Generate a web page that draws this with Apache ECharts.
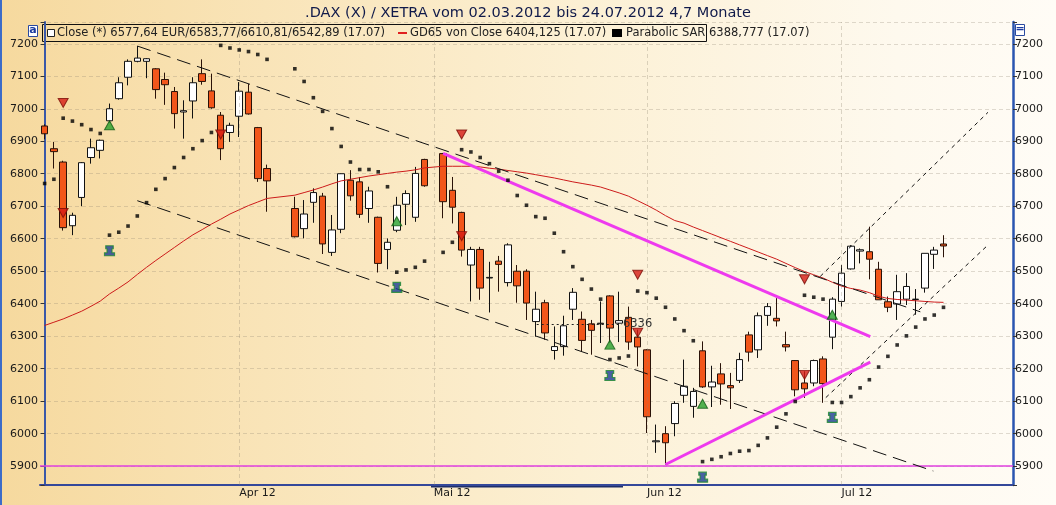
<!DOCTYPE html>
<html>
<head>
<meta charset="utf-8">
<script src="https://cdn.jsdelivr.net/npm/echarts@6/dist/echarts.min.js"></script>
<style>
html,body{margin:0;padding:0;}
#c{width:1056px;height:505px;background:linear-gradient(to right,#f6d99e 0%,#f9e4b8 25%,#fcf0d4 55%,#fef9ee 85%,#fffcf6 100%);}
</style>
</head>
<body>
<div id="c"></div>
<script>
// ---- categories: all weekdays 02.03.2012 - 26.07.2012 ----
const dates = [
 "02.03.","05.03.","06.03.","07.03.","08.03.","09.03.","12.03.","13.03.","14.03.","15.03.","16.03.","19.03.","20.03.","21.03.","22.03.","23.03.","26.03.","27.03.","28.03.","29.03.","30.03.",
 "02.04.","03.04.","04.04.","05.04.","06.04.","09.04.","10.04.","11.04.","12.04.","13.04.","16.04.","17.04.","18.04.","19.04.","20.04.","23.04.","24.04.","25.04.","26.04.","27.04.","30.04.",
 "01.05.","02.05.","03.05.","04.05.","07.05.","08.05.","09.05.","10.05.","11.05.","14.05.","15.05.","16.05.","17.05.","18.05.","21.05.","22.05.","23.05.","24.05.","25.05.","28.05.","29.05.","30.05.","31.05.",
 "01.06.","04.06.","05.06.","06.06.","07.06.","08.06.","11.06.","12.06.","13.06.","14.06.","15.06.","18.06.","19.06.","20.06.","21.06.","22.06.","25.06.","26.06.","27.06.","28.06.","29.06.",
 "02.07.","03.07.","04.07.","05.07.","06.07.","09.07.","10.07.","11.07.","12.07.","13.07.","16.07.","17.07.","18.07.","19.07.","20.07.","23.07.","24.07.","25.07.","26.07."
];
const monthLabels = {"02.04.":"Apr 12","01.05.":"Mai 12","01.06.":"Jun 12","02.07.":"Jul 12"};
const monthIdx = [21, 42, 65, 86];
const N7 = [null,null,null,null,null,null,null];

// ---- OHLC ----
const opens = [
 6947,6877,6836,6640,6727,6850,6872,6963,7031,7097,7146,7146,7123,7090,7053,6990,7024,7108,7055,6980,6927,
 6977,7051,6942,6816,null,null,6693,6631,6712,6731,6558,6629,6780,6775,6693,6666,6567,6626,6706,6666,6844,
 null,6862,6749,6681,6519,6567,6479,6531,6465,6500,6500,6345,6403,6256,6268,6383,6352,6338,6338,6424,6340,6358,6297,
 6258,5975,6000,6031,6118,6084,6255,6144,6184,6148,6164,6304,6258,6364,6355,6274,6225,6156,6156,6230,6297,
 6407,6507,6562,6560,6506,6406,6399,6414,6413,6448,6552,6583.77
].concat(N7);
const closes = [
 6923,6868,6634,6672,6834,6880,6903,7000,7080,7146,7156,7154,7059,7074,6985,6994,7080,7084,7003,6877,6949,
 7054,6984,6785,6778,null,null,6606,6676,6742,6584,6627,6800,6732,6675,6747,6524,6589,6703,6739,6801,6763,
 null,6714,6697,6565,6567,6448,6481,6521,6581,6455,6402,6383,6310,6268,6332,6435,6287,6318,6340,6325,6348,6282,6267,
 6052,5978,5972,6093,6146,6130,6144,6159,6153,6141,6228,6251,6363,6391,6347,6267,6135,6138,6225,6154,6414,
 6494,6577,6566,6537,6412,6389,6437,6453,6414,6555,6565,6577.64
].concat(N7);
const lows = [
 6906,6816,6625,6611,6700,6831,6847,6957,7028,7072,7143,7094,7031,7012,6939,6908,6970,7074,7000,6842,6898,
 6913,6982,6775,6683,null,null,6604,6601,6649,6553,6547,6617,6717,6664,6649,6496,6506,6620,6642,6652,6760,
 null,6663,6647,6545,6407,6412,6373,6437,6453,6403,6350,6299,6289,6228,6240,6350,6253,6243,6279,6280,6282,6258,6207,
 6002,5941,5905,5992,6095,6049,6141,6082,6089,6076,6156,6222,6233,6332,6330,6253,6115,6110,6146,6095,6260,
 6391,6505,6524,6475,6412,6374,6350,6396,6366,6434,6507,6542.89
].concat(N7);
const highs = [
 6952,6898,6840,6680,6836,6908,6905,7016,7097,7152,7193,7156,7125,7111,7067,7026,7097,7152,7108,6990,6957,
 7082,7076,6944,6828,null,null,6729,6719,6755,6741,6673,6801,6811,6790,6760,6668,6601,6729,6749,6821,6846,
 null,6864,6790,6683,6575,6575,6529,6547,6586,6519,6506,6437,6412,6330,6363,6448,6376,6350,6407,6426,6437,6391,6320,
 6260,6028,6023,6100,6228,6141,6284,6209,6217,6187,6249,6314,6373,6402,6417,6314,6226,6192,6228,6238,6420,
 6519,6580,6570,6637,6529,6422,6489,6494,6445,6555,6575,6610.81
].concat(N7);

// ---- Parabolic SAR ----
const sar = [
 6770,6783,6971,6962,6951,6936,6924,6611,6620,6639,6670,6711,6752,6785,6819,6850,6877,6902,6927,7195,7187,
 7181,7176,7167,7152,null,null,7123,7084,7034,6992,6939,6884,6836,6813,6813,6806,6760,6497,6504,6512,6531,
 null,6558,6589,6874,6867,6850,6831,6808,6780,6733,6703,6668,6663,6617,6560,6514,6475,6445,6414,6228,6233,6239,6439,
 6434,6417,6389,6353,6317,6286,5914,5921,5929,5939,5946,5948,5964,5987,6020,6061,6099,6426,6420,6414,6096,
 6096,6114,6141,6166,6205,6238,6273,6301,6328,6353,6365,6388.777
].concat(N7);

// ---- GD65 (65-day moving average) ----
const gd65 = [
 6333,6343,6353,6365,6377,6392,6408,6430,6448,6467,6490,6512,6533,6553,6573,6593,6612,6628,6645,6660,6676,
 6689,6702,6713,6724,null,null,6734,6742,6750,6759,6769,6778,6783,6788,6793,6797,6801,6805,6808,6812,6818,
 null,6823,6823,6823,6823,6821,6817,6814,6810,6806,6802,6797,6792,6787,6781,6775,6770,6765,6759,6750,6741,6731,6717,
 6703,6688,6671,6656,6648,6636,6625,6614,6603,6592,6581,6570,6559,6548,6537,6524,6511,6499,6489,6479,6466,
 6454,6447,6442,6434,6423,6416,6413,6411,6409,6407,6405,6404.125
].concat(N7);

// ---- signals ----
const sellIdx = [2, 2, 19, 45, 45, 64, 64, 82, 82];
const sellVal = [7018, 6679, 6921, 6921, 6608, 6489, 6311, 6475, 6181];
const buyIdx = [7, 38, 61, 71, 85];
const buyVal = [6949, 6654, 6274, 6092, 6366];
const pawnVal = [6563, 6450, 6179, 5866, 6050];

// ---- drawn trend lines (x = trading-slot index, y = index points) ----
const channelUpper = [[10, 7193], [94.5, 6375]];
const channelLower = [[10, 6717], [95.9, 5885]];
const upUpper = [[83.7, 6484], [101.8, 6989]];
const upLower = [[84.3, 6111], [101.7, 6578]];
const magentaDown = [[43, 6863], [89.1, 6299]];
const magentaUp = [[67, 5905], [89.1, 6220]];
const level6336 = [[53.1, 6336], [62.3, 6336]];
const supportLevel = 5900;

const titleText = ".DAX (X) / XETRA vom 02.03.2012 bis 24.07.2012 4,7 Monate";
const legend1 = "Close (*) 6577,64 EUR/6583,77/6610,81/6542,89 (17.07)";
const legend2 = "GD65 von Close 6404,125 (17.07)";
const legend3 = "Parabolic SAR";
const legend4 = "6388,777 (17.07)";

const candleData = dates.map((d, i) => opens[i] == null ? ['-', '-', '-', '-'] : [opens[i], closes[i], lows[i], highs[i]]);
const sellData = sellIdx.map((x, k) => [x, sellVal[k]]);
const buyData = buyIdx.map((x, k) => [x, buyVal[k]]);
const pawnData = buyIdx.map((x, k) => [x, pawnVal[k]]);

const FONT = 'DejaVu Sans';
const yFmt = v => (Math.abs(v - Math.round(v / 100) * 100) < 0.001 ? String(Math.round(v)) : '');
const Y_MIN = 5842, Y_MAX = 7267;

function trend(data, color, width, type, z) {
  return {type: 'line', xAxisIndex: 1, yAxisIndex: 0, data: data, showSymbol: false, symbol: 'none', silent: true,
    lineStyle: {color: color, width: width, type: type}, z: z, animation: false};
}

const chart = echarts.init(document.getElementById('c'), null, {renderer: 'canvas'});
chart.setOption({
  animation: false,
  backgroundColor: 'transparent',
  grid: {left: 40, right: 43, top: 22, bottom: 20, containLabel: false},
  xAxis: [
    {type: 'category', data: dates, boundaryGap: true,
     axisLine: {show: true, lineStyle: {color: '#34489a', width: 2}},
     axisTick: {show: false},
     axisLabel: {interval: (i, v) => monthLabels[v] !== undefined, formatter: v => monthLabels[v] || '',
                 align: 'left', color: '#1a1a1a', fontSize: 11, fontFamily: FONT, margin: 3},
     splitLine: {show: false}},
    {type: 'value', min: -0.5, max: 104.5, show: false}
  ],
  yAxis: [
    {type: 'value', min: Y_MIN, max: Y_MAX, splitNumber: 14, position: 'left',
     axisLine: {show: true, lineStyle: {color: '#3a58a8', width: 2}},
     axisTick: {show: true, length: 4, lineStyle: {color: '#333'}},
     axisLabel: {formatter: yFmt, color: '#1a1a1a', fontSize: 11, fontFamily: FONT, margin: 2},
     splitLine: {show: true, lineStyle: {color: 'rgba(140,130,110,0.28)', type: [4, 3], width: 1}}},
    {type: 'value', min: Y_MIN, max: Y_MAX, splitNumber: 14, position: 'right',
     axisLine: {show: true, lineStyle: {color: '#2a55b0', width: 2.5}},
     axisTick: {show: true, length: 4, lineStyle: {color: '#333'}},
     axisLabel: {formatter: yFmt, color: '#1a1a1a', fontSize: 11, fontFamily: FONT, margin: 2},
     splitLine: {show: false}}
  ],
  series: [
    {type: 'line', xAxisIndex: 1, data: [], silent: true,
     markLine: {silent: true, symbol: 'none', label: {show: false},
       lineStyle: {color: 'rgba(140,130,110,0.3)', type: [4, 3], width: 1},
       data: monthIdx.map(i => ({xAxis: i}))}},
    {type: 'line', xAxisIndex: 1, data: [], silent: true, z: 5,
     markLine: {silent: true, symbol: 'none', label: {show: false},
       lineStyle: {color: '#e040e0', type: 'solid', width: 1.5},
       data: [{yAxis: supportLevel}]}},
    {type: 'candlestick', name: 'Close', data: candleData, barWidth: 7, z: 3,
     itemStyle: {color: '#ffffff', color0: '#f2561a', borderColor: '#111111', borderColor0: '#2a1208', borderWidth: 1}},
    {type: 'line', name: 'GD65', data: gd65, showSymbol: false, symbol: 'none', connectNulls: true, z: 4,
     lineStyle: {color: '#cc1a1a', width: 1}},
    trend(channelUpper, '#111', 1, [14, 7], 5),
    trend(channelLower, '#111', 1, [14, 7], 5),
    trend(upUpper, '#111', 1, [4, 4], 5),
    trend(upLower, '#111', 1, [4, 4], 5),
    trend(magentaDown, '#ee3aee', 3, 'solid', 5),
    trend(magentaUp, '#ee3aee', 3, 'solid', 5),
    Object.assign(trend(level6336, '#222', 1.2, [2, 3], 5),
      {endLabel: {show: true, formatter: '6336', color: '#333', fontSize: 11.5, fontFamily: FONT, distance: 1}}),
    {type: 'scatter', name: 'Parabolic SAR', data: sar, symbol: 'rect', symbolSize: 3.6, z: 6,
     itemStyle: {color: '#000'}},
    {type: 'scatter', data: sellData, symbol: 'triangle', symbolRotate: 180, symbolSize: [10, 9], z: 7,
     itemStyle: {color: '#d41a14', borderColor: '#7a0c08', borderWidth: 1}},
    {type: 'scatter', data: buyData, symbol: 'triangle', symbolSize: [10, 9], z: 7,
     itemStyle: {color: '#27a02a', borderColor: '#125a14', borderWidth: 1}},
    {type: 'scatter', data: pawnData, symbol: 'path://M2,0H8V3H7V7H9V10H1V7H3V3H2Z', symbolSize: [10, 10], z: 7,
     itemStyle: {color: '#1c3c94', borderColor: '#1e8a30', borderWidth: 1.2}}
  ],
  graphic: [
    {type: 'rect', shape: {x: 0, y: 0, width: 2, height: 505}, style: {fill: '#3d6cc8'}, silent: true},
    {type: 'rect', shape: {x: 431, y: 485, width: 192, height: 2.5}, style: {fill: '#1e2e6a'}, silent: true},
    {type: 'text', x: 528, y: 13, style: {text: titleText, font: '14.5px "DejaVu Sans"', fill: '#101a4a', align: 'center', verticalAlign: 'middle'}, silent: true},
    {type: 'rect', shape: {x: 28.5, y: 25.5, width: 9, height: 11}, style: {fill: '#ffffff', stroke: '#2a4aa0', lineWidth: 1}, silent: true},
    {type: 'text', x: 33, y: 30.5, style: {text: 'a', font: 'bold 11px "DejaVu Sans"', fill: '#1a3aa0', align: 'center', verticalAlign: 'middle'}, silent: true},
    {type: 'rect', shape: {x: 1015.5, y: 24.5, width: 9, height: 11}, style: {fill: '#ffffff', stroke: '#2a4aa0', lineWidth: 1}, silent: true},
    {type: 'text', x: 1020, y: 29.5, style: {text: '=', font: 'bold 11px "DejaVu Sans"', fill: '#1a3aa0', align: 'center', verticalAlign: 'middle'}, silent: true},
    {type: 'rect', shape: {x: 42.5, y: 24.5, width: 664, height: 17}, style: {fill: 'rgba(255,255,255,0)', stroke: '#111', lineWidth: 1}, silent: true},
    {type: 'rect', shape: {x: 47.5, y: 29.5, width: 7, height: 7}, style: {fill: '#ffffff', stroke: '#222', lineWidth: 1}, silent: true},
    {type: 'text', x: 57, y: 33, style: {text: legend1, font: '11.5px "DejaVu Sans"', fill: '#222', verticalAlign: 'middle'}, silent: true},
    {type: 'line', shape: {x1: 398, y1: 33, x2: 407, y2: 33}, style: {stroke: '#e02020', lineWidth: 2}, silent: true},
    {type: 'text', x: 410, y: 33, style: {text: legend2, font: '11.5px "DejaVu Sans"', fill: '#222', verticalAlign: 'middle'}, silent: true},
    {type: 'rect', shape: {x: 612, y: 29, width: 10, height: 8}, style: {fill: '#000'}, silent: true},
    {type: 'text', x: 626, y: 33, style: {text: legend3, font: '11.5px "DejaVu Sans"', fill: '#222', verticalAlign: 'middle'}, silent: true},
    {type: 'text', x: 709, y: 33, style: {text: legend4, font: '11.5px "DejaVu Sans"', fill: '#222', verticalAlign: 'middle'}, silent: true}
  ]
});
</script>
</body>
</html>
